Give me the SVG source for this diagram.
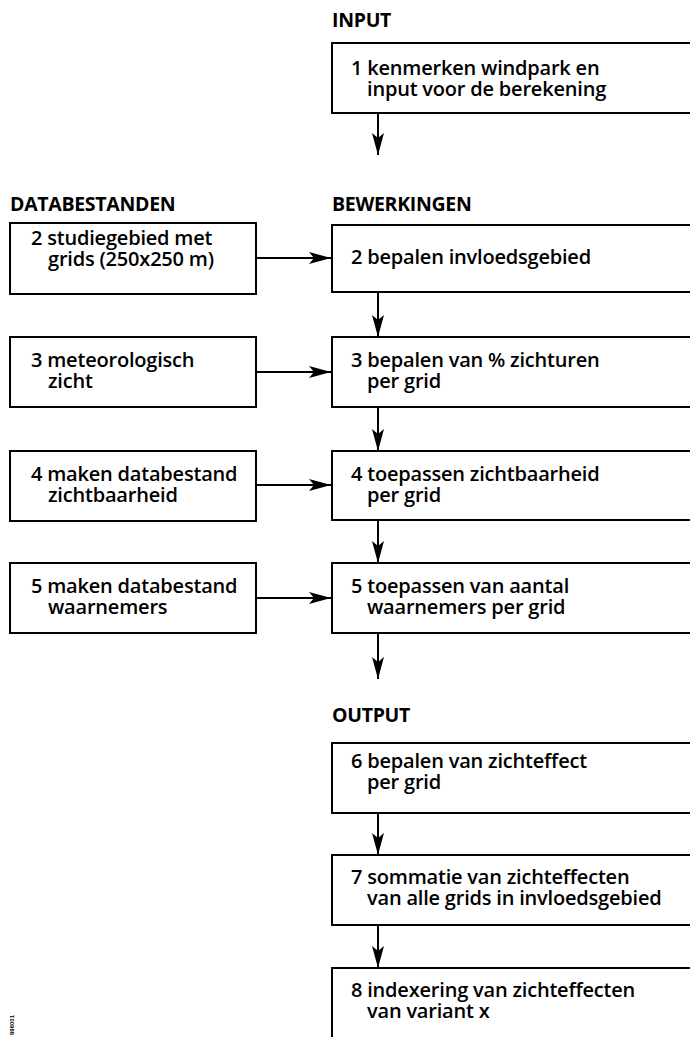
<svg xmlns="http://www.w3.org/2000/svg" width="690" height="1037" viewBox="0 0 690 1037">
<style>
.box{fill:#fff;stroke:#000;stroke-width:2}
.t{font-family:"Open Sans","Liberation Sans",sans-serif;font-weight:600;font-size:20px;letter-spacing:-0.2px;fill:#000}
.h{font-family:"Open Sans","Liberation Sans",sans-serif;font-weight:700;font-size:19.5px;letter-spacing:-0.3px;fill:#000}
.c{stroke:#000;stroke-width:2;fill:none}
</style>
<defs>
<marker id="ah" markerUnits="userSpaceOnUse" markerWidth="24" markerHeight="14" refX="22" refY="7" orient="auto">
<path d="M0,1 L22,7 L0,13 L5,7 Z" fill="#000"/>
</marker>
</defs>
<rect width="690" height="1037" fill="#fff"/>
<g id="headers">
<text class="h" x="332" y="27">INPUT</text>
<text class="h" x="10" y="211">DATABESTANDEN</text>
<text class="h" x="332" y="211">BEWERKINGEN</text>
<text class="h" x="332" y="722">OUTPUT</text>
</g>
<g id="n1"><rect class="box" x="332" y="43" width="370" height="70"/>
<text class="t" x="351" y="75">1 kenmerken windpark en</text><text class="t" x="367" y="96">input voor de berekening</text></g>
<g id="d2"><rect class="box" x="10" y="223" width="246" height="71"/>
<text class="t" x="31" y="245">2 studiegebied met</text><text class="t" x="48" y="266">grids (250x250 m)</text></g>
<g id="d3"><rect class="box" x="10" y="337" width="246" height="70"/>
<text class="t" x="31" y="367">3 meteorologisch</text><text class="t" x="48" y="388">zicht</text></g>
<g id="d4"><rect class="box" x="10" y="451" width="246" height="70"/>
<text class="t" x="31" y="481">4 maken databestand</text><text class="t" x="48" y="502">zichtbaarheid</text></g>
<g id="d5"><rect class="box" x="10" y="563" width="246" height="70"/>
<text class="t" x="31" y="593">5 maken databestand</text><text class="t" x="48" y="614">waarnemers</text></g>
<g id="b2"><rect class="box" x="332" y="225" width="370" height="67"/>
<text class="t" x="351" y="264">2 bepalen invloedsgebied</text></g>
<g id="b3"><rect class="box" x="332" y="337" width="370" height="70"/>
<text class="t" x="351" y="367">3 bepalen van % zichturen</text><text class="t" x="367" y="388">per grid</text></g>
<g id="b4"><rect class="box" x="332" y="451" width="370" height="69"/>
<text class="t" x="351" y="481">4 toepassen zichtbaarheid</text><text class="t" x="367" y="502">per grid</text></g>
<g id="b5"><rect class="box" x="332" y="563" width="370" height="70"/>
<text class="t" x="351" y="593">5 toepassen van aantal</text><text class="t" x="367" y="614">waarnemers per grid</text></g>
<g id="o6"><rect class="box" x="332" y="743" width="370" height="70"/>
<text class="t" x="351" y="768">6 bepalen van zichteffect</text><text class="t" x="367" y="789">per grid</text></g>
<g id="o7"><rect class="box" x="332" y="855" width="370" height="70"/>
<text class="t" x="351" y="884">7 sommatie van zichteffecten</text><text class="t" x="367" y="905">van alle grids in invloedsgebied</text></g>
<g id="o8"><rect class="box" x="332" y="968" width="370" height="80"/>
<text class="t" x="351" y="997">8 indexering van zichteffecten</text><text class="t" x="367" y="1018">van variant x</text></g>
<g id="connectors">
<line class="c" x1="378" y1="113" x2="378" y2="155" marker-end="url(#ah)"/>
<line class="c" x1="378" y1="292" x2="378" y2="337" marker-end="url(#ah)"/>
<line class="c" x1="378" y1="407" x2="378" y2="451" marker-end="url(#ah)"/>
<line class="c" x1="378" y1="520" x2="378" y2="563" marker-end="url(#ah)"/>
<line class="c" x1="378" y1="633" x2="378" y2="679" marker-end="url(#ah)"/>
<line class="c" x1="378" y1="813" x2="378" y2="855" marker-end="url(#ah)"/>
<line class="c" x1="378" y1="925" x2="378" y2="968" marker-end="url(#ah)"/>
<line class="c" x1="256" y1="258" x2="331" y2="258" marker-end="url(#ah)"/>
<line class="c" x1="256" y1="372" x2="331" y2="372" marker-end="url(#ah)"/>
<line class="c" x1="256" y1="485" x2="331" y2="485" marker-end="url(#ah)"/>
<line class="c" x1="256" y1="598" x2="331" y2="598" marker-end="url(#ah)"/>
</g>
<text transform="translate(14,1035) rotate(-90)" font-family="Liberation Sans, sans-serif" font-size="6" font-weight="700">996001</text>
</svg>
